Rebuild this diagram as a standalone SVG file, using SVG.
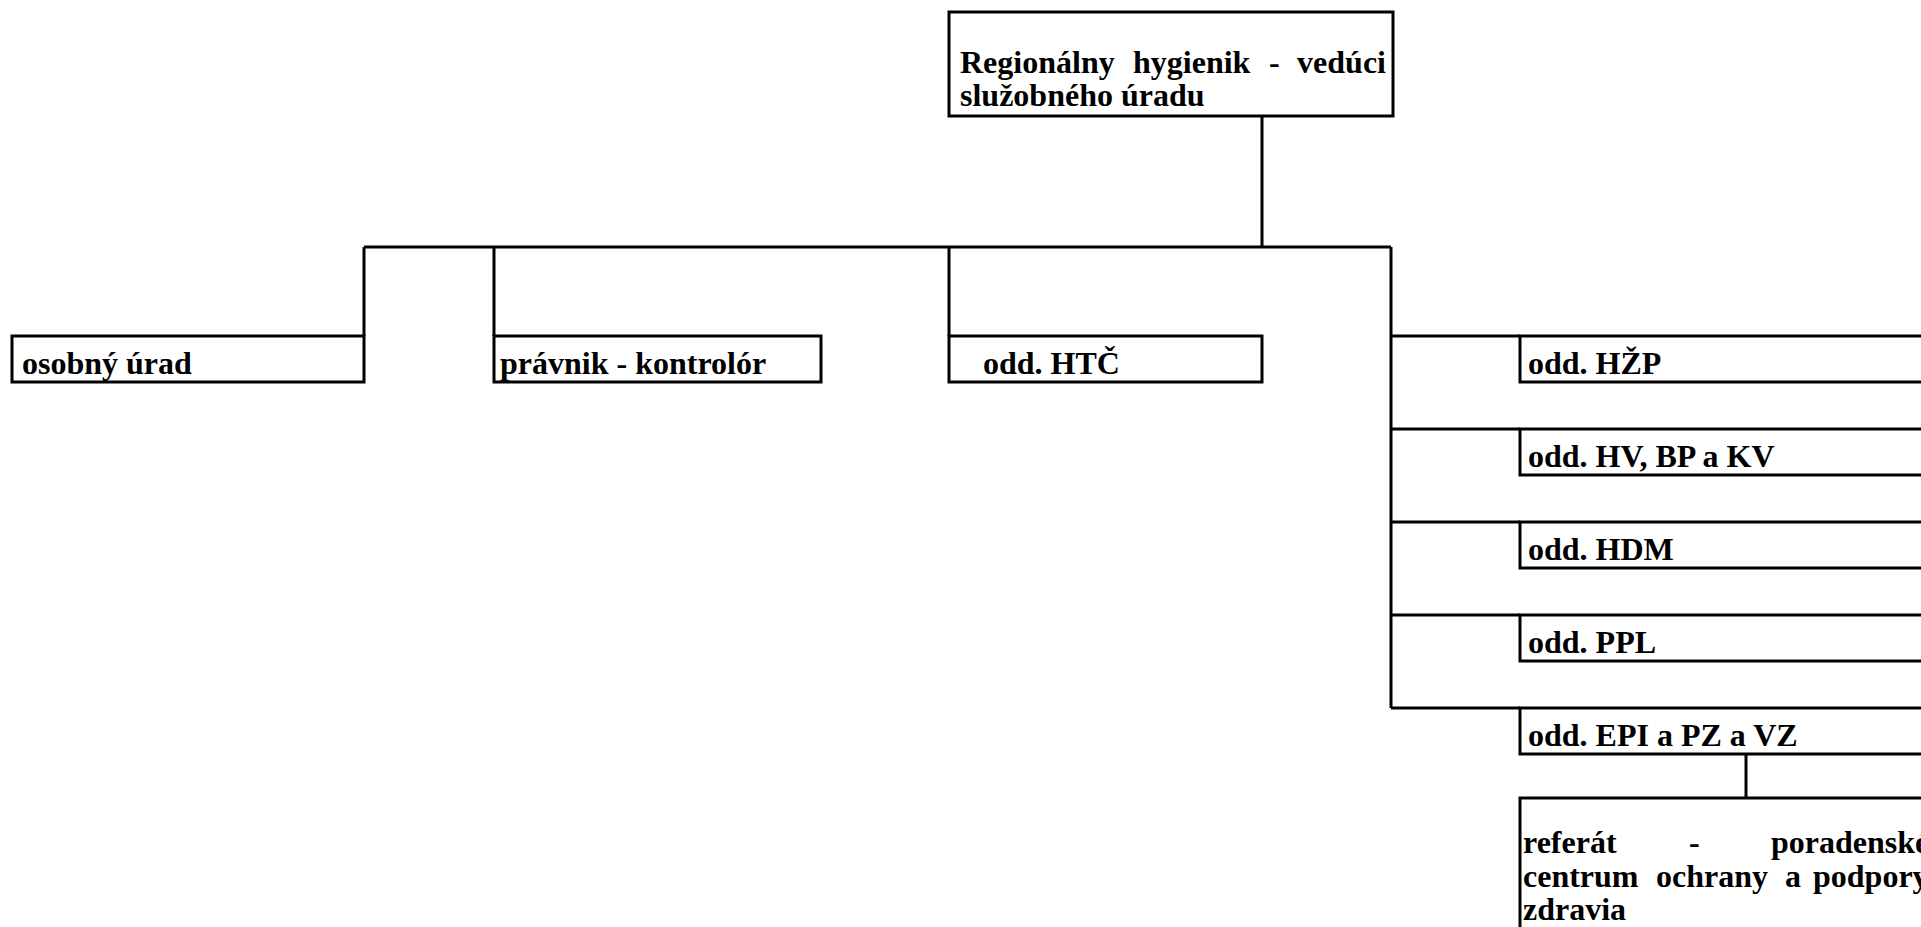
<svg xmlns="http://www.w3.org/2000/svg" width="1921" height="927" viewBox="0 0 1921 927">
<style>
.box{fill:#fff;stroke:#000;stroke-width:3}
.ln{fill:none;stroke:#000;stroke-width:3}
text{font-family:"Liberation Serif","Times New Roman",serif;font-weight:bold;font-size:32px;fill:#000}
</style>
<rect width="1921" height="927" fill="#fff"/>
<g id="connectors">
<path class="ln" d="M1262 116V247M364 247H1391M364 247V336M494 247V336M949 247V336M1391 247V708"/>
<path class="ln" d="M1391 336H1520M1391 429H1520M1391 522H1520M1391 615H1520M1391 708H1520"/>
<path class="ln" d="M1746 754V798"/>
</g>
<g id="n-top">
<rect class="box" x="949" y="12" width="444" height="104"/>
<text x="960" y="73">Regionálny</text>
<text x="1133" y="73">hygienik</text>
<text x="1269" y="73">-</text>
<text x="1386" y="73" text-anchor="end">vedúci</text>
<text x="960" y="106">služobného úradu</text>
</g>
<g id="n-osobny">
<rect class="box" x="12" y="336" width="352" height="46"/>
<text x="22" y="374">osobný úrad</text>
</g>
<g id="n-pravnik">
<rect class="box" x="494" y="336" width="327" height="46"/>
<text x="500" y="374">právnik - kontrolór</text>
</g>
<g id="n-htc">
<rect class="box" x="949" y="336" width="313" height="46"/>
<text x="983" y="374">odd. HTČ</text>
</g>
<g id="n-hzp">
<rect class="box" x="1520" y="336" width="430" height="46"/>
<text x="1528" y="374">odd. HŽP</text>
</g>
<g id="n-hv">
<rect class="box" x="1520" y="429" width="430" height="46"/>
<text x="1528" y="467">odd. HV, BP a KV</text>
</g>
<g id="n-hdm">
<rect class="box" x="1520" y="522" width="430" height="46"/>
<text x="1528" y="560">odd. HDM</text>
</g>
<g id="n-ppl">
<rect class="box" x="1520" y="615" width="430" height="46"/>
<text x="1528" y="653">odd. PPL</text>
</g>
<g id="n-epi">
<rect class="box" x="1520" y="708" width="430" height="46"/>
<text x="1528" y="746">odd. EPI a PZ a VZ</text>
</g>
<g id="n-referat">
<rect class="box" x="1520" y="798" width="430" height="200"/>
<text x="1523" y="853">referát</text>
<text x="1689" y="853">-</text>
<text x="1771" y="853">poradenské</text>
<text x="1523" y="887">centrum</text>
<text x="1656" y="887">ochrany</text>
<text x="1785" y="887">a</text>
<text x="1813" y="887">podpory</text>
<text x="1523" y="920">zdravia</text>
</g>
</svg>
